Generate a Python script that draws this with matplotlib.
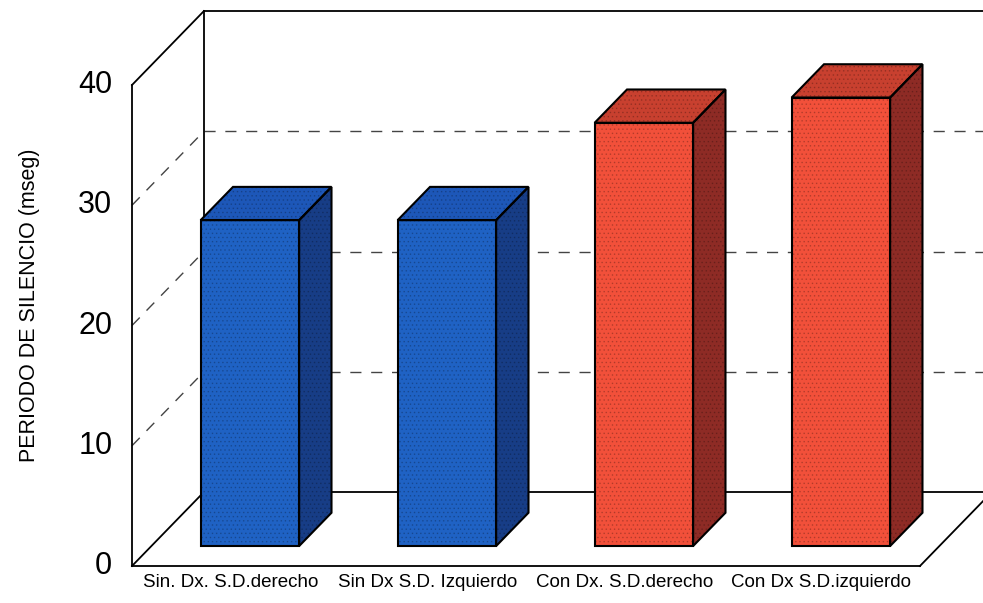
import matplotlib
matplotlib.use("Agg")
import matplotlib.pyplot as plt
from matplotlib.patches import Polygon

plt.rcParams['font.family'] = ['Liberation Sans', 'DejaVu Sans']
plt.rcParams['hatch.linewidth'] = 0.6

# datos
categorias = ['Sin. Dx. S.D.derecho', 'Sin Dx S.D. Izquierdo',
              'Con Dx. S.D.derecho', 'Con Dx S.D.izquierdo']
valores = [27.1, 27.1, 35.2, 37.3]
ticks = [0, 10, 20, 30, 40]
ylabel = 'PERIODO DE SILENCIO (mseg)'

# colores (frente, arriba, lado)
azul = ('#1f62c4', '#1d57b8', '#173d86')
rojo = ('#f2503a', '#c8402f', '#8e2b25')
colores = [azul, azul, rojo, rojo]

# proyeccion oblicua: profundidad z en [0, 1]
DX = 0.365   # desplazamiento en x (unidades de categoria) por profundidad total
DY = 6.15    # desplazamiento en y (unidades de valor) por profundidad total
ncat = len(categorias)
ymax = ticks[-1]


def P(x, y, z):
    return (x + z * DX, y + z * DY)


fig = plt.figure(figsize=(9.83, 6.03), dpi=100)
ax = fig.add_axes([0, 0, 1, 1])
ax.set_xlim(-0.670, 4.320)
ax.set_ylim(-3.077, 47.07)
ax.axis('off')

k = dict(color='black', lw=1.3, zorder=2)
# pared izquierda y trasera
ax.plot(*zip(P(0, 0, 0), P(0, ymax, 0)), **k)
ax.plot(*zip(P(0, ymax, 0), P(0, ymax, 1)), **k)
ax.plot(*zip(P(0, 0, 1), P(0, ymax, 1)), **k)
ax.plot(*zip(P(0, ymax, 1), P(ncat, ymax, 1)), **k)
# suelo
ax.plot(*zip(P(0, 0, 0), P(ncat, 0, 0)), **k)
ax.plot(*zip(P(0, 0, 0), P(0, 0, 1)), **k)
ax.plot(*zip(P(ncat, 0, 0), P(ncat, 0, 1)), **k)
ax.plot(*zip(P(0, 0, 1), P(ncat, 0, 1)), **k)

# lineas de division
g = dict(color='#444444', lw=1.0, ls=(0, (8, 7)), zorder=1)
for t in ticks[1:-1]:
    ax.plot(*zip(P(0, t, 0), P(0, t, 1)), **g)
    ax.plot(*zip(P(0, t, 1), P(ncat, t, 1)), **g)

# barras
z0, z1 = 0.27, 0.72
w = 0.5
for i, (v, c) in enumerate(zip(valores, colores)):
    x0 = i + 0.5 - w / 2
    x1 = i + 0.5 + w / 2
    caras = [
        ([P(x0, 0, z0), P(x1, 0, z0), P(x1, v, z0), P(x0, v, z0)], c[0]),
        ([P(x0, v, z0), P(x1, v, z0), P(x1, v, z1), P(x0, v, z1)], c[1]),
        ([P(x1, 0, z0), P(x1, 0, z1), P(x1, v, z1), P(x1, v, z0)], c[2]),
    ]
    for pts, col in caras:
        ax.add_patch(Polygon(pts, closed=True, facecolor=col,
                             edgecolor='#00000030', hatch='....', lw=0, zorder=3))
        ax.add_patch(Polygon(pts, closed=True, fill=False,
                             edgecolor='black', lw=1.5, zorder=4))

# etiquetas
for t in ticks:
    ax.text(-0.10, t, str(t), ha='right', va='center', fontsize=22)
for i, lab in enumerate(categorias):
    ax.text(i + 0.5, -1.41, lab, ha='center', va='center', fontsize=13.5)
ax.text(-0.52, 21.7, ylabel, rotation=90, ha='center', va='center', fontsize=15.5)

fig.savefig('out.png', dpi=100)
